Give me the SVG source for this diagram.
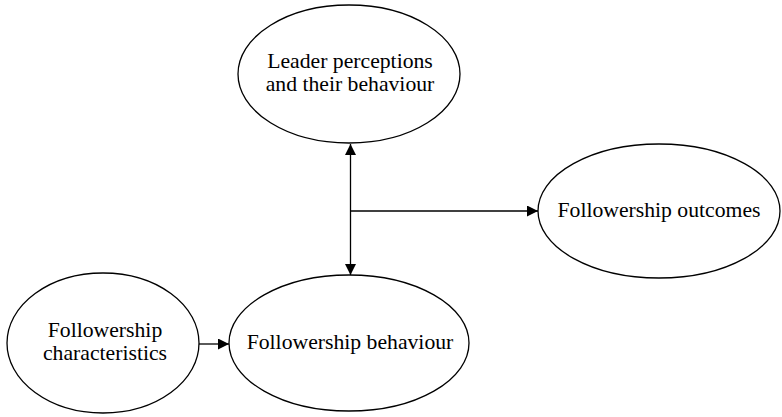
<svg xmlns="http://www.w3.org/2000/svg" width="782" height="417" viewBox="0 0 782 417">
  <style>
    .node ellipse { fill: #fff; stroke: #000; stroke-width: 1.3; }
    .node text { font-family: "Liberation Serif", "Times New Roman", serif; font-size: 21.7px; fill: #000; text-anchor: middle; }
    .edge { stroke: #000; stroke-width: 1.3; fill: none; }
  </style>
  <defs>
    <marker id="arrow" viewBox="0 0 10 10" refX="10" refY="5" markerWidth="11" markerHeight="11" markerUnits="userSpaceOnUse" orient="auto-start-reverse">
      <path d="M0,0 L10,5 L0,10 Z" fill="#000"/>
    </marker>
  </defs>
  <rect width="782" height="417" fill="#fff"/>

  <g id="leader" class="node">
    <ellipse cx="349" cy="74" rx="111" ry="69"/>
    <text x="350" y="68">Leader perceptions</text>
    <text x="350" y="91">and their behaviour</text>
  </g>

  <g id="outcomes" class="node">
    <ellipse cx="659" cy="211" rx="121" ry="67"/>
    <text x="659" y="217">Followership outcomes</text>
  </g>

  <g id="characteristics" class="node">
    <ellipse cx="103" cy="343" rx="96" ry="70"/>
    <text x="105" y="337">Followership</text>
    <text x="105" y="360">characteristics</text>
  </g>

  <g id="behaviour" class="node">
    <ellipse cx="349" cy="343" rx="120" ry="68"/>
    <text x="350" y="349">Followership behaviour</text>
  </g>

  <g id="connectors">
    <line class="edge" x1="350.5" y1="144" x2="350.5" y2="275" marker-start="url(#arrow)" marker-end="url(#arrow)"/>
    <line class="edge" x1="350.5" y1="211" x2="538" y2="211" marker-end="url(#arrow)"/>
    <line class="edge" x1="199" y1="344" x2="229" y2="344" marker-end="url(#arrow)"/>
  </g>
</svg>
